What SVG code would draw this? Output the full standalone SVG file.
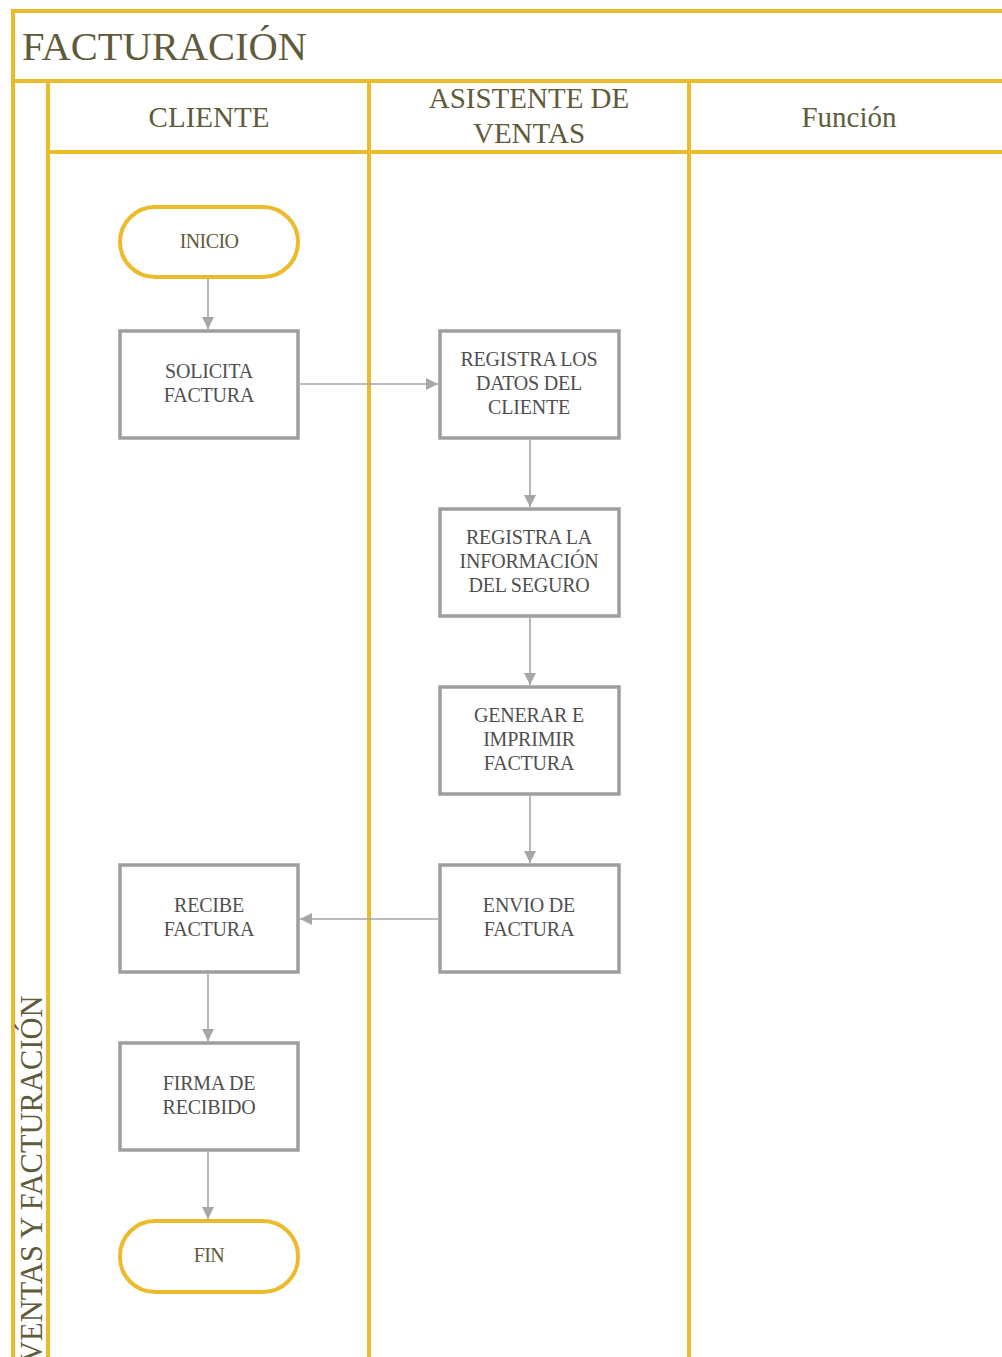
<svg xmlns="http://www.w3.org/2000/svg" width="1002" height="1357" viewBox="0 0 1002 1357">
  <style>
    .lane { stroke: #ECBB2C; stroke-width: 4; fill: none; }
    .hdr { font-family: "Liberation Serif", "Times New Roman", serif; fill: #5F5B3B; text-anchor: middle; }
    .box { fill: #FFFFFF; stroke: #9E9E9E; stroke-width: 3.5; }
    .term { fill: #FFFFFF; stroke: #ECBB2C; stroke-width: 4; }
    .lbl { font-family: "Liberation Serif", "Times New Roman", serif; font-size: 20px; fill: #4F4F4F; text-anchor: middle; letter-spacing: -0.2px; }
    .tlbl { font-family: "Liberation Serif", "Times New Roman", serif; font-size: 20px; fill: #5F5B3B; text-anchor: middle; letter-spacing: -0.6px; }
    .conn { stroke: #A6A6A6; stroke-width: 1.6; fill: none; marker-end: url(#arrow); }
  </style>
  <defs>
    <marker id="arrow" viewBox="0 0 12 12" refX="12" refY="6" markerWidth="12" markerHeight="12" markerUnits="userSpaceOnUse" orient="auto">
      <path d="M0,0 L12,6 L0,12 Z" fill="#A6A6A6"/>
    </marker>
  </defs>
  <rect width="1002" height="1357" fill="#FFFFFF"/>

  <!-- pool frame and swimlanes -->
  <g id="pool">
    <line class="lane" x1="13" y1="11" x2="1002" y2="11"/>
    <line class="lane" x1="13" y1="9" x2="13" y2="1357"/>
    <line class="lane" x1="13" y1="81" x2="1002" y2="81"/>
    <line class="lane" x1="48" y1="81" x2="48" y2="1357"/>
    <line class="lane" x1="48" y1="152" x2="1002" y2="152"/>
    <line class="lane" x1="369" y1="81" x2="369" y2="1357"/>
    <line class="lane" x1="689" y1="81" x2="689" y2="1357"/>
    <text x="22" y="60" font-family="'Liberation Serif', 'Times New Roman', serif" font-size="40.5" fill="#5F5B3B">FACTURACIÓN</text>
    <text transform="translate(42,1363) rotate(-90)" font-family="'Liberation Serif', 'Times New Roman', serif" font-size="30.5" fill="#5F5B3B">VENTAS Y FACTURACIÓN</text>
    <text class="hdr" x="209" y="127" font-size="29">CLIENTE</text>
    <text class="hdr" x="529" y="108" font-size="29">ASISTENTE DE</text>
    <text class="hdr" x="529" y="143" font-size="29">VENTAS</text>
    <text class="hdr" x="849" y="127" font-size="29">Función</text>
  </g>

  <!-- connectors -->
  <g id="connectors">
    <line class="conn" x1="208" y1="279" x2="208" y2="329"/>
    <line class="conn" x1="300" y1="384" x2="438" y2="384"/>
    <line class="conn" x1="530" y1="440" x2="530" y2="507"/>
    <line class="conn" x1="530" y1="618" x2="530" y2="685"/>
    <line class="conn" x1="530" y1="796" x2="530" y2="863"/>
    <line class="conn" x1="438" y1="919" x2="300" y2="919"/>
    <line class="conn" x1="208" y1="974" x2="208" y2="1041"/>
    <line class="conn" x1="208" y1="1152" x2="208" y2="1219"/>
  </g>

  <!-- nodes -->
  <g id="inicio">
    <rect class="term" x="120" y="207" width="178" height="70" rx="35"/>
    <text class="tlbl" x="209" y="248">INICIO</text>
  </g>
  <g id="solicita-factura">
    <rect class="box" x="120" y="331" width="178" height="107"/>
    <text class="lbl" x="209" y="378">SOLICITA</text>
    <text class="lbl" x="209" y="402">FACTURA</text>
  </g>
  <g id="registra-datos">
    <rect class="box" x="440" y="331" width="179" height="107"/>
    <text class="lbl" x="529" y="366">REGISTRA LOS</text>
    <text class="lbl" x="529" y="390">DATOS DEL</text>
    <text class="lbl" x="529" y="414">CLIENTE</text>
  </g>
  <g id="registra-seguro">
    <rect class="box" x="440" y="509" width="179" height="107"/>
    <text class="lbl" x="529" y="544">REGISTRA LA</text>
    <text class="lbl" x="529" y="568">INFORMACIÓN</text>
    <text class="lbl" x="529" y="592">DEL SEGURO</text>
  </g>
  <g id="generar-factura">
    <rect class="box" x="440" y="687" width="179" height="107"/>
    <text class="lbl" x="529" y="722">GENERAR E</text>
    <text class="lbl" x="529" y="746">IMPRIMIR</text>
    <text class="lbl" x="529" y="770">FACTURA</text>
  </g>
  <g id="envio-factura">
    <rect class="box" x="440" y="865" width="179" height="107"/>
    <text class="lbl" x="529" y="912">ENVIO DE</text>
    <text class="lbl" x="529" y="936">FACTURA</text>
  </g>
  <g id="recibe-factura">
    <rect class="box" x="120" y="865" width="178" height="107"/>
    <text class="lbl" x="209" y="912">RECIBE</text>
    <text class="lbl" x="209" y="936">FACTURA</text>
  </g>
  <g id="firma-recibido">
    <rect class="box" x="120" y="1043" width="178" height="107"/>
    <text class="lbl" x="209" y="1090">FIRMA DE</text>
    <text class="lbl" x="209" y="1114">RECIBIDO</text>
  </g>
  <g id="fin">
    <rect class="term" x="120" y="1221" width="178" height="71" rx="35"/>
    <text class="tlbl" x="209" y="1262">FIN</text>
  </g>
</svg>
